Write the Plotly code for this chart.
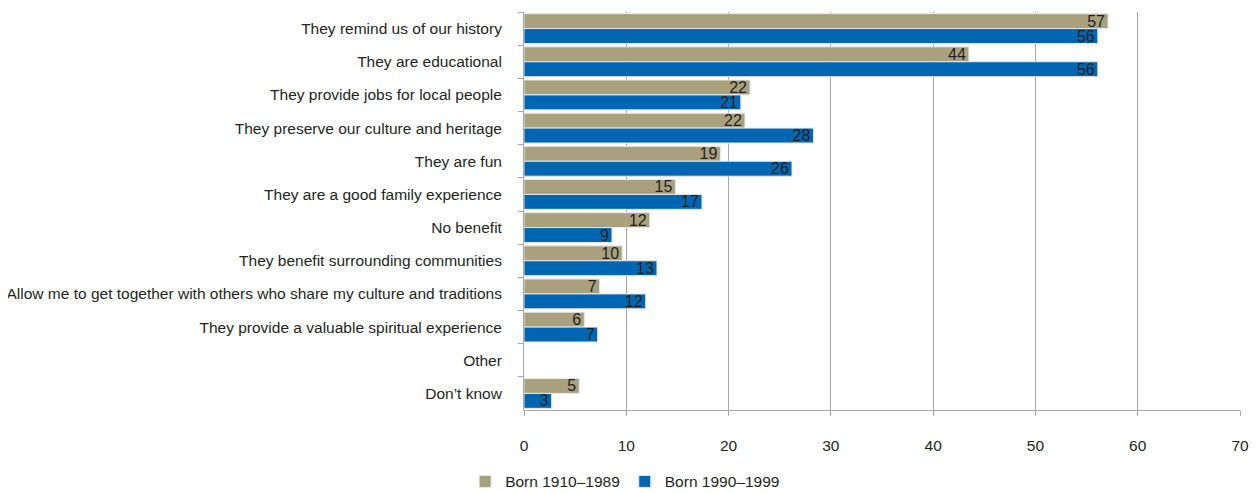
import plotly.graph_objects as go

categories = [
    "They remind us of our history",
    "They are educational",
    "They provide jobs for local people",
    "They preserve our culture and heritage",
    "They are fun",
    "They are a good family experience",
    "No benefit",
    "They benefit surrounding communities",
    "Allow me to get together with others who share my culture and traditions",
    "They provide a valuable spiritual experience",
    "Other",
    "Don\u2019t know",
]
born_1910_1989 = [57.1, 43.5, 22.1, 21.6, 19.2, 14.8, 12.3, 9.6, 7.4, 5.9, None, 5.4]
born_1990_1999 = [56.1, 56.1, 21.2, 28.3, 26.2, 17.4, 8.6, 13.0, 11.9, 7.2, None, 2.7]
series_names = ["Born 1910\u20131989", "Born 1990\u20131999"]
x_ticks = [0, 10, 20, 30, 40, 50, 60, 70]

FONT = "Liberation Sans Narrow, Arial Narrow, Liberation Sans, Arial, sans-serif"
colors = ["#A9A17E", "#0066B3"]

fig = go.Figure()
for name, vals, col in zip(series_names, [born_1910_1989, born_1990_1999], colors):
    fig.add_trace(go.Bar(
        y=categories, x=vals, name=name, orientation="h",
        marker=dict(color=col, line=dict(color="#E8E8E8", width=1)),
        texttemplate="%{x:.0f}", textposition="inside", insidetextanchor="end",
        constraintext="none", textangle=0,
        textfont=dict(family=FONT, size=16, color="#231F20"),
    ))

# the page body has an 8px margin, so the figure is sized/offset to compensate
fig.update_layout(
    width=1249, height=485,
    margin=dict(l=516, r=17, t=4, b=83),
    plot_bgcolor="white", paper_bgcolor="white",
    barmode="group", bargap=0.1, bargroupgap=0,
    font=dict(family=FONT, size=15.5, color="#231F20"),
    legend=dict(orientation="h", xref="container", yref="container",
                x=0.366, y=0.023, xanchor="left", yanchor="middle",
                font=dict(size=15.5), itemwidth=30, tracegroupgap=0),
    showlegend=True,
)
fig.update_xaxes(
    range=[0, 70], tickvals=x_ticks, showgrid=True, gridcolor="#A6A6A6", gridwidth=1,
    showline=True, linecolor="#A6A6A6", linewidth=1,
    ticks="outside", ticklen=5, tickcolor="#A6A6A6",
    ticklabelstandoff=16, zeroline=False, automargin=False,
    tickfont=dict(size=15.5),
)
fig.update_yaxes(
    autorange="reversed", showline=True, linecolor="#A6A6A6", linewidth=1,
    ticks="outside", ticklen=5, tickcolor="#A6A6A6", tickson="boundaries",
    ticklabelstandoff=18, tickfont=dict(size=15.5), showgrid=False, automargin=False,
)

fig.write_html("out.html")
